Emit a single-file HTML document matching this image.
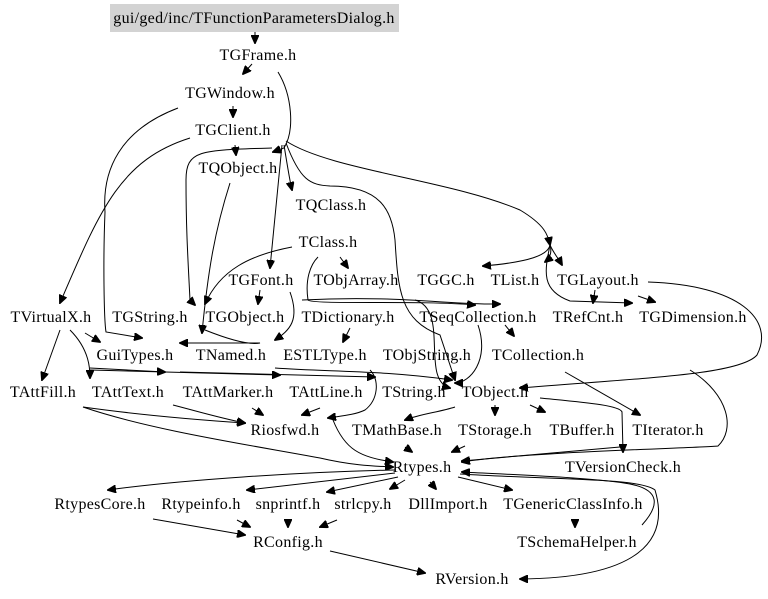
<!DOCTYPE html>
<html><head><meta charset="utf-8"><style>
html,body{margin:0;padding:0;background:#fff;}
svg{display:block;}
text{font-family:"Liberation Serif",serif;font-size:16px;letter-spacing:0.3px;fill:#000;text-anchor:middle;}
path{fill:none;stroke:#000;stroke-width:1;}
</style></head><body>
<svg width="768" height="599" viewBox="0 0 768 599" xmlns="http://www.w3.org/2000/svg">
<defs><marker id="a" markerWidth="9" markerHeight="8" refX="8" refY="4" orient="auto" markerUnits="userSpaceOnUse"><path d="M0,0 L9,4 L0,8 Z" style="fill:#000;stroke:#000"/></marker></defs>
<rect x="110" y="4" width="289" height="28" fill="#d3d3d3"/>
<g marker-end="url(#a)">
<path d="M255,32 L255,43"/>
<path d="M252,64 L243,74"/>
<path d="M278,72 C292,95 295,130 284,148 L273,152"/>
<path d="M233,106 L233,117"/>
<path d="M178,108 C120,130 102,170 105,212 C103,260 104,320 106,332 L142,338"/>
<path d="M190,138 C120,160 100,210 60,303"/>
<path d="M272,148 C200,150 186,150 186,180 C186,230 188,260 190,300 L195,305"/>
<path d="M235,145 L236,155"/>
<path d="M282,145 L270,268"/>
<path d="M284,145 C288,170 290,182 292,190"/>
<path d="M286,143 C300,180 310,185 330,186 C380,186 392,210 395,240 C398,290 400,320 440,335 L455,380"/>
<path d="M286,141 C330,170 450,180 520,210 C545,225 548,235 550,245"/>
<path d="M550,245 C548,255 530,262 483,266"/>
<path d="M550,245 C552,252 550,258 545,262"/>
<path d="M550,245 C553,252 558,258 562,265"/>
<path d="M550,245 C545,270 540,290 570,301 L632,303"/>
<path d="M595,290 L593,303"/>
<path d="M638,296 L655,302"/>
<path d="M648,282 C740,285 775,320 757,355 C740,375 640,378 520,388"/>
<path d="M230,183 C215,230 208,270 202,333"/>
<path d="M292,247 C250,255 220,270 205,304"/>
<path d="M318,257 C310,265 305,280 308,300 C312,305 420,300 475,305"/>
<path d="M340,257 L348,268"/>
<path d="M260,290 L258,304"/>
<path d="M290,292 C300,320 290,330 275,340"/>
<path d="M350,328 L343,342"/>
<path d="M302,300 C400,295 450,305 500,304"/>
<path d="M415,300 C450,310 420,380 450,388"/>
<path d="M505,325 L514,336"/>
<path d="M478,325 C490,360 470,383 455,383"/>
<path d="M205,330 C230,340 250,345 260,343 L180,343"/>
<path d="M85,333 L100,342"/>
<path d="M70,330 C90,350 90,370 90,378"/>
<path d="M60,330 L42,380"/>
<path d="M90,368 L165,372"/>
<path d="M90,370 L280,375"/>
<path d="M180,372 L375,377"/>
<path d="M275,368 C330,372 380,370 452,380"/>
<path d="M565,372 L640,415"/>
<path d="M252,408 L263,415"/>
<path d="M320,408 L302,415"/>
<path d="M83,407 C140,415 200,420 245,423"/>
<path d="M173,405 C200,412 220,418 245,423"/>
<path d="M370,370 C380,380 378,400 365,410 C355,415 340,416 328,418"/>
<path d="M455,407 C440,412 420,414 405,420"/>
<path d="M495,405 L495,415"/>
<path d="M530,405 L545,412"/>
<path d="M540,398 C580,402 620,405 622,412 L623,452"/>
<path d="M83,407 C150,430 250,445 320,458 C350,465 370,466 393,467"/>
<path d="M333,420 C345,450 360,457 393,462"/>
<path d="M690,370 C730,395 735,430 718,446 C700,448 520,452 462,462"/>
<path d="M620,447 L462,461"/>
<path d="M465,446 L452,452"/>
<path d="M405,447 L412,452"/>
<path d="M395,470 C300,472 180,480 108,490"/>
<path d="M395,473 L247,490"/>
<path d="M398,477 L327,492"/>
<path d="M405,480 L390,489"/>
<path d="M430,482 L436,489"/>
<path d="M458,477 L512,490"/>
<path d="M575,520 L575,527"/>
<path d="M642,525 C660,505 660,490 630,484 C600,478 520,475 462,472"/>
<path d="M460,474 C560,480 640,478 655,490 C670,540 640,578 520,579"/>
<path d="M153,519 L245,535"/>
<path d="M237,520 L250,527"/>
<path d="M288,520 L288,527"/>
<path d="M337,520 L320,527"/>
<path d="M330,551 L425,573"/>
</g>
<text x="254" y="23">gui/ged/inc/TFunctionParametersDialog.h</text>
<text x="258" y="60">TGFrame.h</text>
<text x="230" y="98">TGWindow.h</text>
<text x="233" y="135">TGClient.h</text>
<text x="238" y="173">TQObject.h</text>
<text x="331" y="210">TQClass.h</text>
<text x="328" y="247">TClass.h</text>
<text x="261" y="285">TGFont.h</text>
<text x="356" y="285">TObjArray.h</text>
<text x="446" y="285">TGGC.h</text>
<text x="515" y="285">TList.h</text>
<text x="598" y="285">TGLayout.h</text>
<text x="51" y="322">TVirtualX.h</text>
<text x="150" y="322">TGString.h</text>
<text x="245" y="322">TGObject.h</text>
<text x="348" y="322">TDictionary.h</text>
<text x="478" y="322">TSeqCollection.h</text>
<text x="588" y="322">TRefCnt.h</text>
<text x="693" y="322">TGDimension.h</text>
<text x="135" y="360">GuiTypes.h</text>
<text x="231" y="360">TNamed.h</text>
<text x="325" y="360">ESTLType.h</text>
<text x="427" y="360">TObjString.h</text>
<text x="538" y="360">TCollection.h</text>
<text x="43" y="397">TAttFill.h</text>
<text x="128" y="397">TAttText.h</text>
<text x="228" y="397">TAttMarker.h</text>
<text x="326" y="397">TAttLine.h</text>
<text x="414" y="397">TString.h</text>
<text x="495" y="397">TObject.h</text>
<text x="285" y="435">Riosfwd.h</text>
<text x="397" y="435">TMathBase.h</text>
<text x="495" y="435">TStorage.h</text>
<text x="582" y="435">TBuffer.h</text>
<text x="668" y="435">TIterator.h</text>
<text x="422" y="472">Rtypes.h</text>
<text x="623" y="472">TVersionCheck.h</text>
<text x="100" y="509">RtypesCore.h</text>
<text x="201" y="509">Rtypeinfo.h</text>
<text x="288" y="509">snprintf.h</text>
<text x="363" y="509">strlcpy.h</text>
<text x="448" y="509">DllImport.h</text>
<text x="573" y="509">TGenericClassInfo.h</text>
<text x="288" y="547">RConfig.h</text>
<text x="577" y="547">TSchemaHelper.h</text>
<text x="472" y="584">RVersion.h</text>
</svg>
</body></html>
